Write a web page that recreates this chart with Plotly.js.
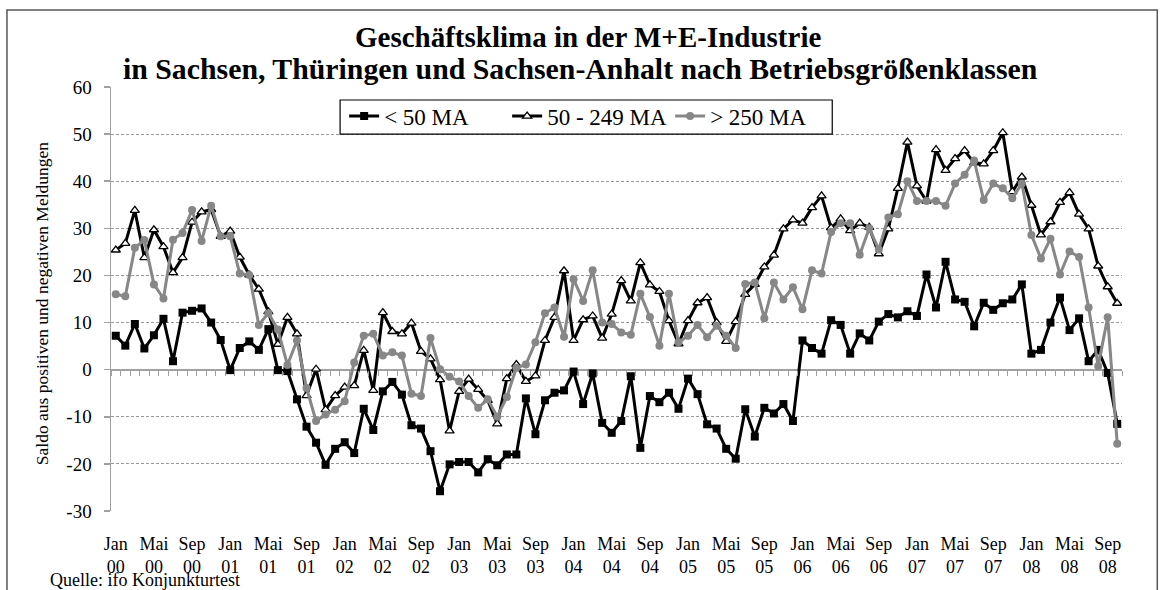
<!DOCTYPE html>
<html>
<head>
<meta charset="utf-8">
<script src="https://cdn.plot.ly/plotly-3.0.1.min.js"></script>
<style>html,body{margin:0;padding:0;background:#fff;}#chart{width:1165px;height:590px;}</style>
</head>
<body>
<div id="chart"></div>
<script>
// Month abbreviations (German) and the category list Jan 00 .. Okt 08
const monthNames = ['Jan','Feb','Mrz','Apr','Mai','Jun','Jul','Aug','Sep','Okt','Nov','Dez'];
const yearLabels = ['00','01','02','03','04','05','06','07','08'];
const categories = [];
for (const yr of yearLabels) { for (const m of monthNames) { if (categories.length < 106) categories.push(m + ' ' + yr); } }

// Tick labels every 4 months
const tickVals = categories.filter((c, i) => i % 4 === 0);
const tickText = tickVals.map(c => c.replace(' ', '<br>'));

// y tick labels
const yTickVals = [-30,-20,-10,0,10,20,30,40,50,60];
const yTickText = ['-30','-20','-10','0','10','20','30','40','50','60'];

// Series values (Saldo)
const under50 = [7.2,5.1,9.7,4.5,7.3,10.8,1.8,12.1,12.5,13.0,10.0,6.3,
  -0.1,4.6,6.0,4.2,8.6,-0.1,-0.3,-6.3,-12.1,-15.5,-20.2,-16.8,
  -15.4,-17.7,-8.3,-12.8,-4.6,-2.6,-5.3,-11.8,-12.5,-17.3,-25.8,-20.1,
  -19.6,-19.6,-21.8,-19.0,-20.3,-18.0,-18.0,-6.1,-13.7,-6.5,-4.9,-4.4,
  -0.4,-7.3,-0.8,-11.3,-13.4,-10.9,-1.4,-16.6,-5.6,-6.9,-4.9,-8.3,
  -1.9,-5.2,-11.6,-12.5,-16.8,-18.9,-8.4,-14.2,-8.1,-9.3,-7.3,-10.9,
  6.2,4.6,3.4,10.5,9.5,3.4,7.7,6.2,10.2,11.8,11.1,12.4,
  11.4,20.2,13.2,22.9,14.9,14.4,9.2,14.2,12.7,14.1,14.9,18.1,
  3.4,4.2,10.0,15.3,8.4,10.9,1.8,4.2,-0.7,-11.5];

const mid50to249 = [25.4,26.8,33.8,23.8,29.7,26.1,20.6,23.8,31.3,33.5,34.0,28.3,
  29.4,23.9,20.1,17.1,12.3,5.4,11.1,7.6,-5.5,0.1,-8.5,-5.5,
  -3.7,-3.4,4.1,-4.4,12.1,8.1,7.6,9.9,3.9,2.3,-2.1,-13.0,
  -4.6,-2.0,-4.2,-6.5,-11.5,-1.9,1.1,-2.5,-1.3,6.2,11.1,21.0,
  6.2,10.6,11.4,6.7,11.8,18.9,14.6,22.7,18.0,16.6,10.4,5.5,
  10.4,14.2,15.3,10.0,6.0,10.2,16.0,18.1,21.8,24.3,29.9,31.8,
  31.1,34.4,36.9,30.1,32.0,29.5,31.1,30.2,24.6,29.9,38.5,48.3,
  39.0,35.8,46.7,42.3,44.8,46.5,43.9,43.7,46.5,50.3,37.8,40.9,
  34.9,28.6,31.4,35.5,37.6,33.0,29.9,22.0,17.6,14.1];

const over250 = [16.0,15.6,25.9,27.5,18.1,15.1,27.6,29.0,33.9,27.3,34.8,28.3,
  28.3,20.4,20.1,9.5,12.0,8.5,1.0,6.2,-3.9,-10.9,-9.5,-8.5,
  -6.7,1.5,7.2,7.6,3.0,3.7,3.0,-5.1,-5.6,6.7,0.1,-1.5,
  -2.5,-5.6,-8.1,-6.3,-10.0,-5.8,0.4,1.1,5.8,12.0,13.2,7.0,
  19.2,14.6,21.1,10.0,9.7,7.9,7.4,16.1,11.2,5.1,16.1,5.8,
  7.2,9.5,6.9,9.3,7.2,4.6,18.2,18.5,10.9,18.5,14.9,17.5,
  12.8,21.1,20.4,29.2,31.1,31.1,24.4,30.0,25.5,32.3,33.0,40.0,
  35.8,35.8,35.8,34.8,39.5,41.4,44.4,36.0,39.5,38.5,36.4,39.5,
  28.6,23.6,27.8,20.2,25.1,23.9,13.2,0.8,11.1,-15.7];

const seriesNames = ['< 50 MA', '50 - 249 MA', '> 250 MA'];
const titleLines = ['Geschäftsklima in der M+E-Industrie',
  'in Sachsen, Thüringen und Sachsen-Anhalt nach Betriebsgrößenklassen'];
const FONT = 'Liberation Serif, Times New Roman, serif';
const GREY = '#878787';

const traces = [
  { type:'scatter', mode:'lines+markers', name:seriesNames[0], x:categories, y:under50,
    line:{color:'#000', width:3}, marker:{symbol:'square', size:8, color:'#000'} },
  { type:'scatter', mode:'lines+markers', name:seriesNames[1], x:categories, y:mid50to249,
    line:{color:'#000', width:3}, marker:{symbol:'triangle-up', size:8, color:'#fff', line:{color:'#000', width:1.3}} },
  { type:'scatter', mode:'lines+markers', name:seriesNames[2], x:categories, y:over250,
    line:{color:GREY, width:3}, marker:{symbol:'circle', size:8, color:GREY} },
  // invisible helper trace carrying the tick-mark axis at the zero line
  { type:'scatter', mode:'markers', x:[0], y:[null], xaxis:'x2', yaxis:'y', showlegend:false, hoverinfo:'skip' }
];

const layout = {
  width:1165, height:590,
  paper_bgcolor:'#fff', plot_bgcolor:'#fff',
  margin:{l:111, r:43, t:87, b:79},
  font:{family:FONT, color:'#000', size:18},
  showlegend:true,
  legend:{orientation:'h', x:0.2306, xanchor:'left', y:0.982, yanchor:'top',
    borderwidth:0, bgcolor:'rgba(0,0,0,0)', font:{family:FONT, size:23, color:'#000'},
    itemwidth:30, traceorder:'normal', entrywidth:118, entrywidthmode:'pixels'},
  xaxis:{type:'category', range:[-0.5,105.5], tickmode:'array', tickvals:tickVals, ticktext:tickText,
    ticks:'', showline:false, showgrid:false, zeroline:false, tickangle:0,
    tickfont:{family:FONT, size:18, color:'#000'}, ticklabelstandoff:20},
  xaxis2:{overlaying:'x', anchor:'free', position:1/3, type:'linear', range:[-0.5,105.5],
    tickmode:'linear', tick0:-0.5, dtick:1, ticks:'outside', ticklen:5, tickwidth:1, tickcolor:'#a0a0a0',
    showticklabels:false, showgrid:false, zeroline:false, showline:false},
  yaxis:{range:[-30,60], tickmode:'array', tickvals:yTickVals, ticktext:yTickText,
    showgrid:true, gridcolor:'#9a9a9a', gridwidth:1, griddash:'3px,2px',
    zeroline:true, zerolinecolor:'#a0a0a0', zerolinewidth:2,
    showline:true, linecolor:'#a0a0a0', linewidth:1.5,
    ticks:'outside', ticklen:6, tickcolor:'#a0a0a0', tickwidth:1.5,
    tickfont:{family:FONT, size:19, color:'#000'}, ticklabelstandoff:8},
  annotations:[
    {text:'<b>' + titleLines[0] + '</b>', xref:'paper', yref:'paper', x:0.4715, y:1.1179,
      xanchor:'center', yanchor:'middle', showarrow:false, font:{family:FONT, size:29, color:'#000'}},
    {text:'<b>' + titleLines[1] + '</b>', xref:'paper', yref:'paper', x:0.464, y:1.0448,
      xanchor:'center', yanchor:'middle', showarrow:false, font:{family:FONT, size:29.8, color:'#000'}},
    {text:'Saldo aus positiven und negativen Meldungen', xref:'paper', yref:'paper',
      x:-0.0683, y:0.49, xanchor:'center', yanchor:'middle', textangle:-90, showarrow:false,
      font:{family:FONT, size:17.5, color:'#000'}},
    {text:'Quelle: ifo Konjunkturtest', xref:'paper', yref:'paper',
      x:-0.0623, y:-0.1915, xanchor:'left', yanchor:'bottom', showarrow:false,
      font:{family:FONT, size:18, color:'#000'}}
  ],
  shapes:[
    {type:'rect', xref:'paper', yref:'paper', x0:-0.1029, x1:1.0349, y0:-0.25, y1:1.1816,
      line:{color:'#555', width:1.5}, fillcolor:'rgba(0,0,0,0)', layer:'below'},
    // legend frame
    {type:'rect', xref:'paper', yref:'paper', x0:0.2266, x1:0.7134, y0:0.889, y1:0.9693,
      line:{color:'#000', width:1.2}, fillcolor:'#fff', layer:'above'}
  ]
};

Plotly.newPlot('chart', traces, layout, {displayModeBar:false, staticPlot:true});
</script>
</body>
</html>
